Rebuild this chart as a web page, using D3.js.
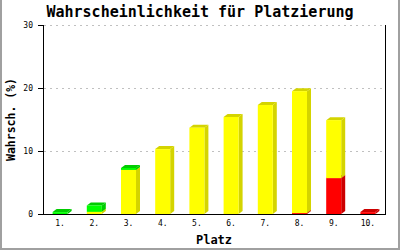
<!DOCTYPE html>
<html>
<head>
<meta charset="utf-8">
<script src="https://cdn.jsdelivr.net/npm/d3@7"></script>
<style>
  html, body { margin: 0; padding: 0; background: #fff; }
  svg { display: block; }
  text { font-family: "DejaVu Sans Mono", monospace; }
  line { shape-rendering: crispEdges; }
</style>
</head>
<body>
<div id="chart"></div>
<script>
  // data
  var places = ["1.", "2.", "3.", "4.", "5.", "6.", "7.", "8.", "9.", "10."];
  var red    = [0,   0,    0,   0,    0,    0,    0,    0.15, 5.7, 0.3];
  var yellow = [0,   0.35, 7.0, 10.3, 13.7, 15.4, 17.3, 19.35, 9.2, 0];
  var green  = [0.3, 1.0,  0.3, 0,    0,    0,    0,    0,    0,   0];
  var yTicks = [0, 10, 20, 30];

  var width = 400, height = 250;
  var margin = { top: 25, right: 15, bottom: 36, left: 43 };
  var dx = 4, dy = 3, barW = 15;

  var svg = d3.select("#chart").append("svg")
      .attr("width", width).attr("height", height);

  // frame
  svg.append("path")
      .attr("d", "M1,0V249H399V0")
      .attr("fill", "none").attr("stroke", "#a0a0a0").attr("stroke-width", 2);

  var x = d3.scaleBand().domain(places)
      .range([margin.left, width - margin.right]);
  var y = d3.scaleLinear().domain([0, 30])
      .range([height - margin.bottom, margin.top]);

  // grid
  svg.append("g").selectAll("line").data(yTicks.filter(function (d) { return d > 0; }))
      .enter().append("line")
      .attr("x1", margin.left + 1).attr("x2", width - margin.right)
      .attr("y1", function (d) { return y(d) + 0.5; })
      .attr("y2", function (d) { return y(d) + 0.5; })
      .attr("stroke", "#c0c0c0").attr("stroke-dasharray", "2,4");

  // stacked series, bottom to top
  var series = [
    { vals: red,    front: "#ff0000", dark: "#cc0000" },
    { vals: yellow, front: "#ffff00", dark: "#d4d400" },
    { vals: green,  front: "#00ff00", dark: "#00cc00" }
  ];

  var bars = svg.append("g");
  places.forEach(function (p, i) {
    var base = 0;
    var cx = x(p) + x.bandwidth() / 2;
    var x0 = cx - barW / 2, x1 = cx + barW / 2;
    series.forEach(function (s) {
      var v = s.vals[i];
      if (v <= 0) return;
      var yb = y(base), yt = y(base + v);
      base += v;
      // side
      bars.append("path")
          .attr("d", "M" + x1 + "," + yb + "L" + x1 + "," + yt + "L" + (x1 + dx) + "," + (yt - dy) +
                "L" + (x1 + dx) + "," + (yb - dy) + "Z")
          .attr("fill", s.dark);
      // top
      bars.append("path")
          .attr("d", "M" + x0 + "," + yt + "L" + (x0 + dx) + "," + (yt - dy) + "L" + (x1 + dx) + "," + (yt - dy) +
                "L" + x1 + "," + yt + "Z")
          .attr("fill", s.dark);
      // front
      bars.append("rect")
          .attr("x", x0).attr("y", yt)
          .attr("width", barW).attr("height", yb - yt)
          .attr("fill", s.front);
    });
  });

  // axes lines
  var axes = svg.append("g").attr("stroke", "#000").attr("stroke-width", 1);
  axes.append("line").attr("x1", margin.left + 0.5).attr("x2", margin.left + 0.5)
      .attr("y1", y(30)).attr("y2", y(0) + 1);
  axes.append("line").attr("x1", width - margin.right + 0.5).attr("x2", width - margin.right + 0.5)
      .attr("y1", y(30)).attr("y2", y(0) + 1);
  axes.append("line").attr("x1", margin.left).attr("x2", width - margin.right + 1)
      .attr("y1", y(0) + 0.5).attr("y2", y(0) + 0.5);

  // y ticks
  var yt = svg.append("g");
  yTicks.forEach(function (t) {
    yt.append("line").attr("x1", margin.left - 5).attr("x2", margin.left)
        .attr("y1", y(t) + 0.5).attr("y2", y(t) + 0.5).attr("stroke", "#000");
    yt.append("text").attr("x", margin.left - 10).attr("y", y(t) + 3)
        .attr("text-anchor", "end").attr("font-size", 8).text(t);
  });

  // x labels
  svg.append("g").selectAll("text").data(places).enter().append("text")
      .attr("x", function (d) { return x(d) + x.bandwidth() / 2; })
      .attr("y", 226)
      .attr("text-anchor", "middle").attr("font-size", 8)
      .text(function (d) { return d; });

  // titles
  svg.append("text").attr("x", 200).attr("y", 17)
      .attr("text-anchor", "middle").attr("font-size", 15).attr("font-weight", "bold")
      .text("Wahrscheinlichkeit für Platzierung");
  svg.append("text").attr("x", (margin.left + width - margin.right) / 2).attr("y", 244)
      .attr("text-anchor", "middle").attr("font-size", 12).attr("font-weight", "bold")
      .text("Platz");
  svg.append("text")
      .attr("transform", "translate(15," + ((y(0) + y(30)) / 2) + ") rotate(-90)")
      .attr("text-anchor", "middle").attr("font-size", 11.5).attr("font-weight", "bold")
      .text("Wahrsch. (%)");
</script>
</body>
</html>
